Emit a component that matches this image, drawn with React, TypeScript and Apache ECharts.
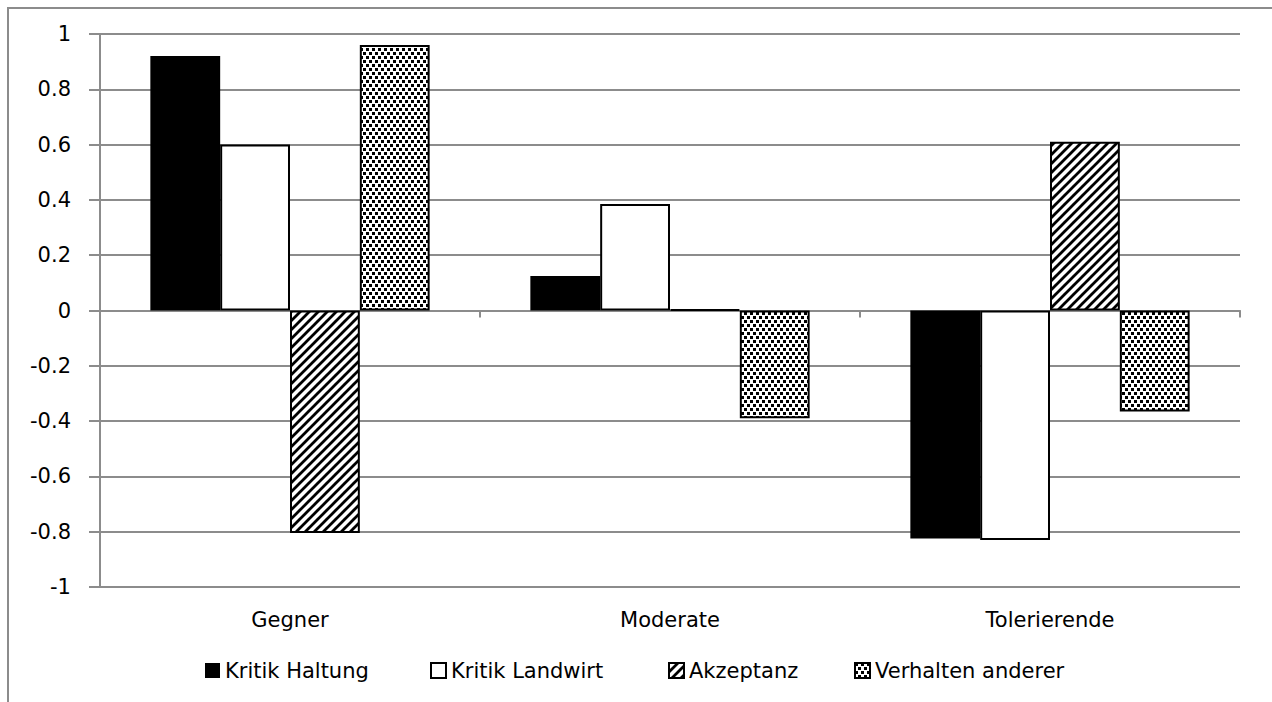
import React, { useEffect, useRef } from "react";
import * as echarts from "echarts";

const categories = ["Gegner", "Moderate", "Tolerierende"];
const seriesNames = ["Kritik Haltung", "Kritik Landwirt", "Akzeptanz", "Verhalten anderer"];
const kritikHaltung = [0.92, 0.125, -0.825];
const kritikLandwirt = [0.6, 0.385, -0.83];
const akzeptanz = [-0.805, 0.003, 0.61];
const verhaltenAnderer = [0.96, -0.39, -0.365];
const yMin = -1;
const yMax = 1;
const yInterval = 0.2;

const FONT = "'DejaVu Sans', 'Open Sans', sans-serif";
const FS = 21;

function stripeCanvas(): HTMLCanvasElement {
  const s = 9;
  const c = document.createElement("canvas");
  c.width = s;
  c.height = s;
  const ctx = c.getContext("2d")!;
  ctx.fillStyle = "#fff";
  ctx.fillRect(0, 0, s, s);
  ctx.strokeStyle = "#000";
  ctx.lineWidth = 2.8;
  ctx.beginPath();
  ctx.moveTo(-1, s + 1);
  ctx.lineTo(s + 1, -1);
  ctx.moveTo(-1, 1);
  ctx.lineTo(1, -1);
  ctx.moveTo(s - 1, s + 1);
  ctx.lineTo(s + 1, s - 1);
  ctx.stroke();
  return c;
}

function dotCanvas(): HTMLCanvasElement {
  const w = 12;
  const h = 8;
  const c = document.createElement("canvas");
  c.width = w;
  c.height = h;
  const ctx = c.getContext("2d")!;
  ctx.fillStyle = "#fff";
  ctx.fillRect(0, 0, w, h);
  ctx.fillStyle = "#000";
  const pts = [
    [0, 0], [6, 0],
    [3, 4], [9, 4],
  ];
  for (const [x, y] of pts) ctx.fillRect(x, y, 3, 3);
  return c;
}

export default function App() {
  const ref = useRef<HTMLDivElement>(null);
  useEffect(() => {
    if (!ref.current) return;
    const chart = echarts.init(ref.current, null, { renderer: "svg" });
    const stripes = { image: stripeCanvas(), repeat: "repeat" };
    const dots = { image: dotCanvas(), repeat: "repeat" };
    const datasets = [kritikHaltung, kritikLandwirt, akzeptanz, verhaltenAnderer];
    const styles: any[] = [
      { color: "#000", borderColor: "#000", borderWidth: 0 },
      { color: "#fff", borderColor: "#000", borderWidth: 2 },
      { color: stripes, borderColor: "#000", borderWidth: 2 },
      { color: dots, borderColor: "#000", borderWidth: 2 },
    ];
    const legendLefts = [200, 425, 663, 849];
    const gray = "#8c8c8c";
    chart.setOption({
      animation: false,
      textStyle: { fontFamily: FONT },
      grid: { left: 100, right: 32, top: 34, bottom: 115, containLabel: false },
      graphic: [
        {
          type: "rect",
          shape: { x: 8, y: 8, width: 1300, height: 720 },
          style: { fill: "none", stroke: gray, lineWidth: 2 },
          silent: true,
        },
      ],
      legend: seriesNames.map((n, i) => ({
        data: [n],
        left: legendLefts[i],
        top: 655,
        icon: "rect",
        itemWidth: 15,
        itemHeight: 15,
        selectedMode: false,
        textStyle: { fontSize: FS, color: "#000", fontFamily: FONT },
      })),
      xAxis: [
        {
          type: "category",
          data: categories,
          position: "bottom",
          axisLine: { show: true, onZero: true, lineStyle: { color: gray, width: 2 } },
          axisTick: { show: true, length: 7, lineStyle: { color: gray, width: 2 } },
          axisLabel: { show: false },
          splitLine: { show: false },
        },
        {
          type: "category",
          data: categories,
          position: "bottom",
          axisLine: { show: false, onZero: false },
          axisTick: { show: false },
          axisLabel: { show: true, margin: 22, fontSize: FS, color: "#000", fontFamily: FONT },
        },
      ],
      yAxis: {
        type: "value",
        min: yMin,
        max: yMax,
        interval: yInterval,
        axisLine: { show: true, lineStyle: { color: gray, width: 2 } },
        axisTick: { show: true, length: 11, lineStyle: { color: gray, width: 2 } },
        axisLabel: {
          margin: 29,
          fontSize: FS,
          color: "#000",
          fontFamily: FONT,
          formatter: (v: number) => String(Math.round(v * 10) / 10),
        },
        splitLine: { show: true, lineStyle: { color: gray, width: 2 } },
      },
      series: seriesNames.map((n, i) => ({
        name: n,
        type: "bar",
        xAxisIndex: 0,
        data: datasets[i],
        barGap: "0%",
        barCategoryGap: "26.5%",
        itemStyle: styles[i],
      })),
    });
    return () => chart.dispose();
  }, []);
  return (
    <div
      ref={ref}
      style={{ position: "fixed", left: 0, top: 0, width: 1272, height: 702, background: "#fff" }}
    />
  );
}
